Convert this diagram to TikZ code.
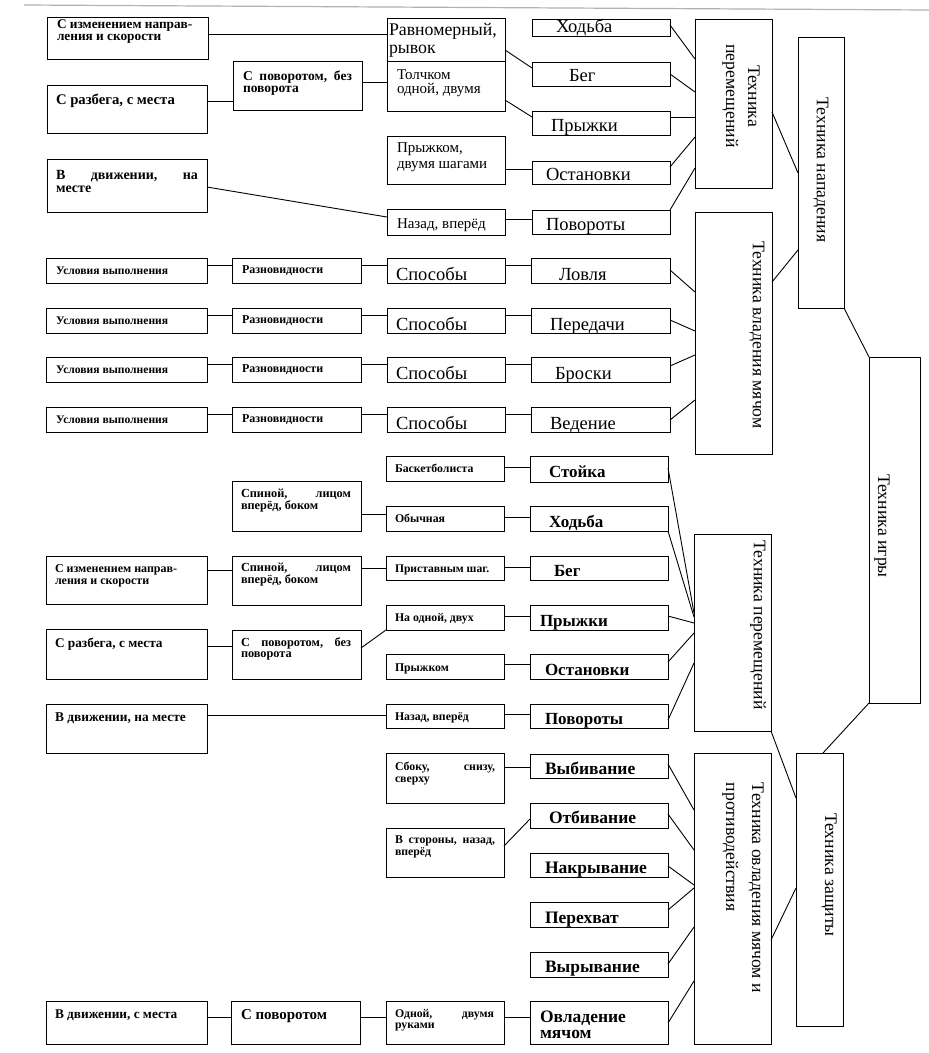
\documentclass[tikz,border=0pt]{standalone}
\usepackage{fontspec}
\setmainfont{Liberation Serif}
\newcommand\fr[1]{\fontsize{#1}{#1}\selectfont}
\newcommand\fb[1]{\bfseries\fontsize{#1}{#1}\selectfont}
\newcommand\twol[3]{\vtop{\baselineskip=#1pt\lineskiplimit=-100pt\relax\hbox{#2}\hbox{#3}}}
\newcommand\bx[5]{\pgfmathsetmacro\bxw{#4-#2}\pgfmathsetmacro\bxh{#5-#3}%
  \node[bx,minimum width=\bxw pt,minimum height=\bxh pt] (#1) at (#2,#3) {};}
\begin{document}
\begin{tikzpicture}[x=1pt,y=-1pt,
  bx/.style={draw,line width=0.9pt,anchor=north west,inner sep=0pt,outer sep=0pt},
  tx/.style={anchor=base west,inner sep=0pt,outer sep=0pt},
  vt/.style={rotate=-90,inner sep=0pt,font=\fontsize{17.7}{21}\selectfont},
  ln/.style={line width=0.9pt}]
\fill[white] (0,0) rectangle (929,1053);
\useasboundingbox (0,0) rectangle (929,1053);
\draw[gray!60,line width=1.2pt] (24,5) -- (929,10);

% ---------- Section 1 ----------
\bx{a1}{47}{17}{208}{59}
\bx{a2}{47}{85}{207}{133}
\bx{a3}{47}{159}{207}{212}
\bx{b1}{233}{61}{362}{110}
\bx{c1}{387}{18}{505}{61}
\bx{c2}{387}{61}{505}{111}
\bx{c3}{387}{136}{505}{184}
\bx{c4}{387}{209}{505}{235}
\bx{d1}{532}{19}{670}{36}
\bx{d2}{532}{62}{670}{86}
\bx{d3}{532}{111}{670}{135}
\bx{d4}{532}{161}{670}{184}
\bx{d5}{532}{210}{670}{234}
\bx{tp1}{695}{19}{772}{188}
\bx{tn}{798}{37}{844}{308}

\node[tx,font=\fb{13.3}] (a1t) at (57,28) {\twol{12.5}{С изменением направ-}{ления и скорости}};
\node[tx,font=\fb{14.7}] (a2t) at (56,104) {С разбега, с места};
\node[tx,font=\fb{14}] (a3t) at (56,179) {\twol{13}{\hbox to 142pt{В\hfill движении,\hfill на}}{месте}};
\node[tx,font=\fb{13.5}] (b1t) at (243,80) {\twol{12}{\hbox to 109pt{С\hfill поворотом,\hfill без}}{поворота}};
\node[tx,font=\fr{17.8}] (c1t) at (389,35) {\twol{18}{Равномерный,}{рывок}};
\node[tx,font=\fr{15}] (c2t) at (397,79) {\twol{14}{Толчком}{одной, двумя}};
\node[tx,font=\fr{15}] (c3t) at (397,152) {\twol{16}{Прыжком,}{двумя шагами}};
\node[tx,font=\fr{15}] (c4t) at (397,228) {Назад, вперёд};
\node[tx,font=\fr{18.5}] (d1t) at (556,32) {Ходьба};
\node[tx,font=\fr{18.5}] (d2t) at (569,81) {Бег};
\node[tx,font=\fr{18.5}] (d3t) at (551,131) {Прыжки};
\node[tx,font=\fr{18.5}] (d4t) at (546,180) {Остановки};
\node[tx,font=\fr{18.5}] (d5t) at (546,230) {Повороты};
\node[vt,align=center,font=\fontsize{17.7}{22}\selectfont] (tp1t) at (741,96) {Техника\\перемещений};
\node[vt] (tnt) at (821,170) {Техника нападения};

\draw[ln] (a1.east |- 0,34) -- (c1.west |- 0,34);
\draw[ln] (a2.east |- 0,101) -- (b1.west |- 0,101);
\draw[ln] (b1.east |- 0,82) -- (c2.west |- 0,82);
\draw[ln] (a3.east |- 0,187) -- (c4.west |- 0,217);
\draw[ln] (c1.east |- 0,50) -- (d2.west |- 0,68);
\draw[ln] (c2.east |- 0,100) -- (d3.west |- 0,117);
\draw[ln] (c3.east |- 0,169) -- (d4.west |- 0,169);
\draw[ln] (c4.east |- 0,219) -- (d5.west |- 0,219);
\draw[ln] (d1.east |- 0,25) -- (tp1.west |- 0,59);
\draw[ln] (d2.east |- 0,74) -- (tp1.west |- 0,92);
\draw[ln] (d3.east |- 0,117) -- (tp1.west |- 0,117);
\draw[ln] (d4.east |- 0,167) -- (tp1.west |- 0,137);
\draw[ln] (d5.east |- 0,210) -- (tp1.west |- 0,168);
\draw[ln] (tp1.east |- 0,112) -- (tn.west |- 0,173);

% ---------- Section 2 ----------
\bx{tvm}{695}{212}{772}{454}
\bx{ti}{869}{357}{920}{703}
\foreach \i/\t/\w/\wx in {1/258/Ловля/559,2/308/Передачи/550,3/357/Броски/555,4/407/Ведение/550}{
  \pgfmathsetmacro\bb{\t+25}
  \bx{u\i}{46}{\t}{207}{\bb}
  \bx{r\i}{232}{\t}{361}{\bb}
  \bx{s\i}{387}{\t}{505}{\bb}
  \bx{l\i}{531}{\t}{670}{\bb}
  \node[tx,font=\fb{11.6}] (ut\i) at (56,\t+16) {Условия выполнения};
  \node[tx,font=\fb{12}] (rt\i) at (242,\t+15) {Разновидности};
  \node[tx,font=\fr{18.5}] (st\i) at (396,\t+22) {Способы};
  \node[tx,font=\fr{18.5}] (lt\i) at (\wx,\t+22) {\w};
  \draw[ln] (u\i.east |- 0,\t+7) -- (r\i.west |- 0,\t+7);
  \draw[ln] (r\i.east |- 0,\t+7) -- (s\i.west |- 0,\t+7);
  \draw[ln] (s\i.east |- 0,\t+7) -- (l\i.west |- 0,\t+7);
}
\node[vt] (tvmt) at (757,335) {Техника владения мячом};
\node[vt] (tit) at (882,526) {Техника игры};
\draw[ln] (l1.east |- 0,270) -- (tvm.west |- 0,292);
\draw[ln] (l2.east |- 0,320) -- (tvm.west |- 0,331);
\draw[ln] (l3.east |- 0,366) -- (tvm.west |- 0,355);
\draw[ln] (l4.east |- 0,420) -- (tvm.west |- 0,400);
\draw[ln] (tvm.east |- 0,282) -- (tn.west |- 0,250);
\draw[ln] (tn.south east) -- (ti.north west);

% ---------- Section 3 ----------
\bx{e1}{386}{456}{504}{481}
\bx{f1}{232}{481}{361}{531}
\bx{e2}{386}{506}{504}{531}
\bx{g2}{46}{556}{207}{604}
\bx{f2}{232}{556}{361}{605}
\bx{e3}{386}{556}{504}{580}
\bx{e4}{386}{605}{504}{630}
\bx{g3}{46}{629}{207}{679}
\bx{f3}{232}{630}{361}{679}
\bx{e5}{386}{654}{504}{679}
\bx{g4}{46}{704}{207}{753}
\bx{e6}{386}{704}{504}{728}
\bx{h1}{530}{456}{668}{482}
\bx{h2}{530}{506}{668}{531}
\bx{h3}{530}{556}{668}{580}
\bx{h4}{530}{605}{668}{630}
\bx{h5}{530}{654}{668}{679}
\bx{h6}{530}{704}{668}{728}
\bx{tp2}{694}{534}{771}{731}

\node[tx,font=\fb{11.8}] (e1t) at (395,472) {Баскетболиста};
\node[tx,font=\fb{12.3}] (f1t) at (241,497) {\twol{12}{\hbox to 110pt{Спиной,\hfill лицом}}{вперёд, боком}};
\node[tx,font=\fb{11.8}] (e2t) at (395,522) {Обычная};
\node[tx,font=\fb{12}] (g2t) at (55,572) {\twol{12}{С изменением направ-}{ления и скорости}};
\node[tx,font=\fb{12.3}] (f2t) at (241,571) {\twol{12}{\hbox to 110pt{Спиной,\hfill лицом}}{вперёд, боком}};
\node[tx,font=\fb{11.6}] (e3t) at (395,572) {Приставным шаг.};
\node[tx,font=\fb{11.8}] (e4t) at (395,621) {На одной, двух};
\node[tx,font=\fb{13.3}] (g3t) at (55,647) {С разбега, с места};
\node[tx,font=\fb{12.3}] (f3t) at (241,646) {\twol{11.5}{\hbox to 110pt{С\hfill поворотом,\hfill без}}{поворота}};
\node[tx,font=\fb{11.8}] (e5t) at (395,671) {Прыжком};
\node[tx,font=\fb{13.4}] (g4t) at (55,721) {В движении, на месте};
\node[tx,font=\fb{11.8}] (e6t) at (395,720) {Назад, вперёд};
\node[tx,font=\fb{17}] (h1t) at (549,477) {Стойка};
\node[tx,font=\fb{17}] (h2t) at (549,527) {Ходьба};
\node[tx,font=\fb{17}] (h3t) at (554,576) {Бег};
\node[tx,font=\fb{17}] (h4t) at (540,626) {Прыжки};
\node[tx,font=\fb{17}] (h5t) at (545,675) {Остановки};
\node[tx,font=\fb{17}] (h6t) at (545,724) {Повороты};
\node[vt] (tp2t) at (758,625) {Техника перемещений};

\draw[ln] (e1.east |- 0,467) -- (h1.west |- 0,467);
\draw[ln] (e2.east |- 0,517) -- (h2.west |- 0,517);
\draw[ln] (e3.east |- 0,567) -- (h3.west |- 0,567);
\draw[ln] (e4.east |- 0,616) -- (h4.west |- 0,616);
\draw[ln] (e5.east |- 0,664) -- (h5.west |- 0,664);
\draw[ln] (e6.east |- 0,714) -- (h6.west |- 0,714);
\draw[ln] (f1.east |- 0,514) -- (e2.west |- 0,514);
\draw[ln] (g2.east |- 0,570) -- (f2.west |- 0,570);
\draw[ln] (f2.east |- 0,568) -- (e3.west |- 0,568);
\draw[ln] (g3.east |- 0,646) -- (f3.west |- 0,646);
\draw[ln] (f3.east |- 0,648) -- (e4.south west);
\draw[ln] (g4.east |- 0,715) -- (e6.west |- 0,715);
\draw[ln] (h1.east |- 0,468) -- (tp2.west |- 0,613);
\draw[ln] (h2.south east) -- (tp2.west |- 0,617);
\draw[ln] (h4.east |- 0,616) -- (tp2.west |- 0,623);
\draw[ln] (h5.east |- 0,662) -- (tp2.west |- 0,633);
\draw[ln] (h6.east |- 0,720) -- (tp2.west |- 0,663);

% ---------- Section 4 ----------
\bx{k1}{386}{753}{504}{803}
\bx{k2}{386}{828}{504}{877}
\bx{m1}{46}{1001}{207}{1044}
\bx{m2}{231}{1001}{360}{1044}
\bx{m3}{386}{1001}{504}{1044}
\bx{n1}{530}{754}{668}{778}
\bx{n2}{530}{803}{668}{828}
\bx{n3}{530}{853}{668}{877}
\bx{n4}{530}{902}{668}{927}
\bx{n5}{530}{952}{668}{977}
\bx{n6}{530}{1001}{668}{1044}
\bx{tomp}{694}{753}{771}{1044}
\bx{tz}{796}{753}{843}{1026}

\node[tx,font=\fb{11.8}] (k1t) at (395,770) {\twol{12}{\hbox to 100pt{Сбоку,\hfill снизу,}}{сверху}};
\node[tx,font=\fb{11.8}] (k2t) at (395,843) {\twol{12}{\hbox to 100pt{В\hfill стороны,\hfill назад,}}{вперёд}};
\node[tx,font=\fb{13.3}] (m1t) at (55,1018) {В движении, с места};
\node[tx,font=\fb{15}] (m2t) at (241,1019) {С поворотом};
\node[tx,font=\fb{11.8}] (m3t) at (395,1017) {\twol{11.5}{\hbox to 99pt{Одной,\hfill двумя}}{руками}};
\node[tx,font=\fb{17.5}] (n1t) at (545,774) {Выбивание};
\node[tx,font=\fb{17.5}] (n2t) at (549,823) {Отбивание};
\node[tx,font=\fb{17.5}] (n3t) at (545,873) {Накрывание};
\node[tx,font=\fb{17.5}] (n4t) at (545,923) {Перехват};
\node[tx,font=\fb{17.5}] (n5t) at (545,972) {Вырывание};
\node[tx,font=\fb{17.5}] (n6t) at (540,1022) {\twol{16}{Овладение}{мячом}};
\node[vt,align=left,font=\fontsize{17.7}{26}\selectfont] (tompt) at (743,888) {Техника овладения мячом и\\противодействия};
\node[vt] (tzt) at (829,875) {Техника защиты};

\draw[ln] (k1.east |- 0,767) -- (n1.west |- 0,767);
\draw[ln] (k2.east |- 0,846) -- (n2.west |- 0,819);
\draw[ln] (m1.east |- 0,1017) -- (m2.west |- 0,1017);
\draw[ln] (m2.east |- 0,1017) -- (m3.west |- 0,1017);
\draw[ln] (m3.east |- 0,1017) -- (n6.west |- 0,1017);
\draw[ln] (n1.east |- 0,764) -- (tomp.west |- 0,810);
\draw[ln] (n2.east |- 0,814) -- (tomp.west |- 0,850);
\draw[ln] (n3.east |- 0,866) -- (tomp.west |- 0,885);
\draw[ln] (n4.east |- 0,910) -- (tomp.west |- 0,888);
\draw[ln] (n5.east |- 0,964) -- (tomp.west |- 0,927);
\draw[ln] (n6.east |- 0,1023) -- (tomp.west |- 0,981);
\draw[ln] (tomp.east |- 0,940) -- (tz.west |- 0,888);
\draw[ln] (tp2.south east) -- (tz.west |- 0,798);
\draw[ln] (ti.south west) -- (823,0 |- tz.north);
\end{tikzpicture}
\end{document}
